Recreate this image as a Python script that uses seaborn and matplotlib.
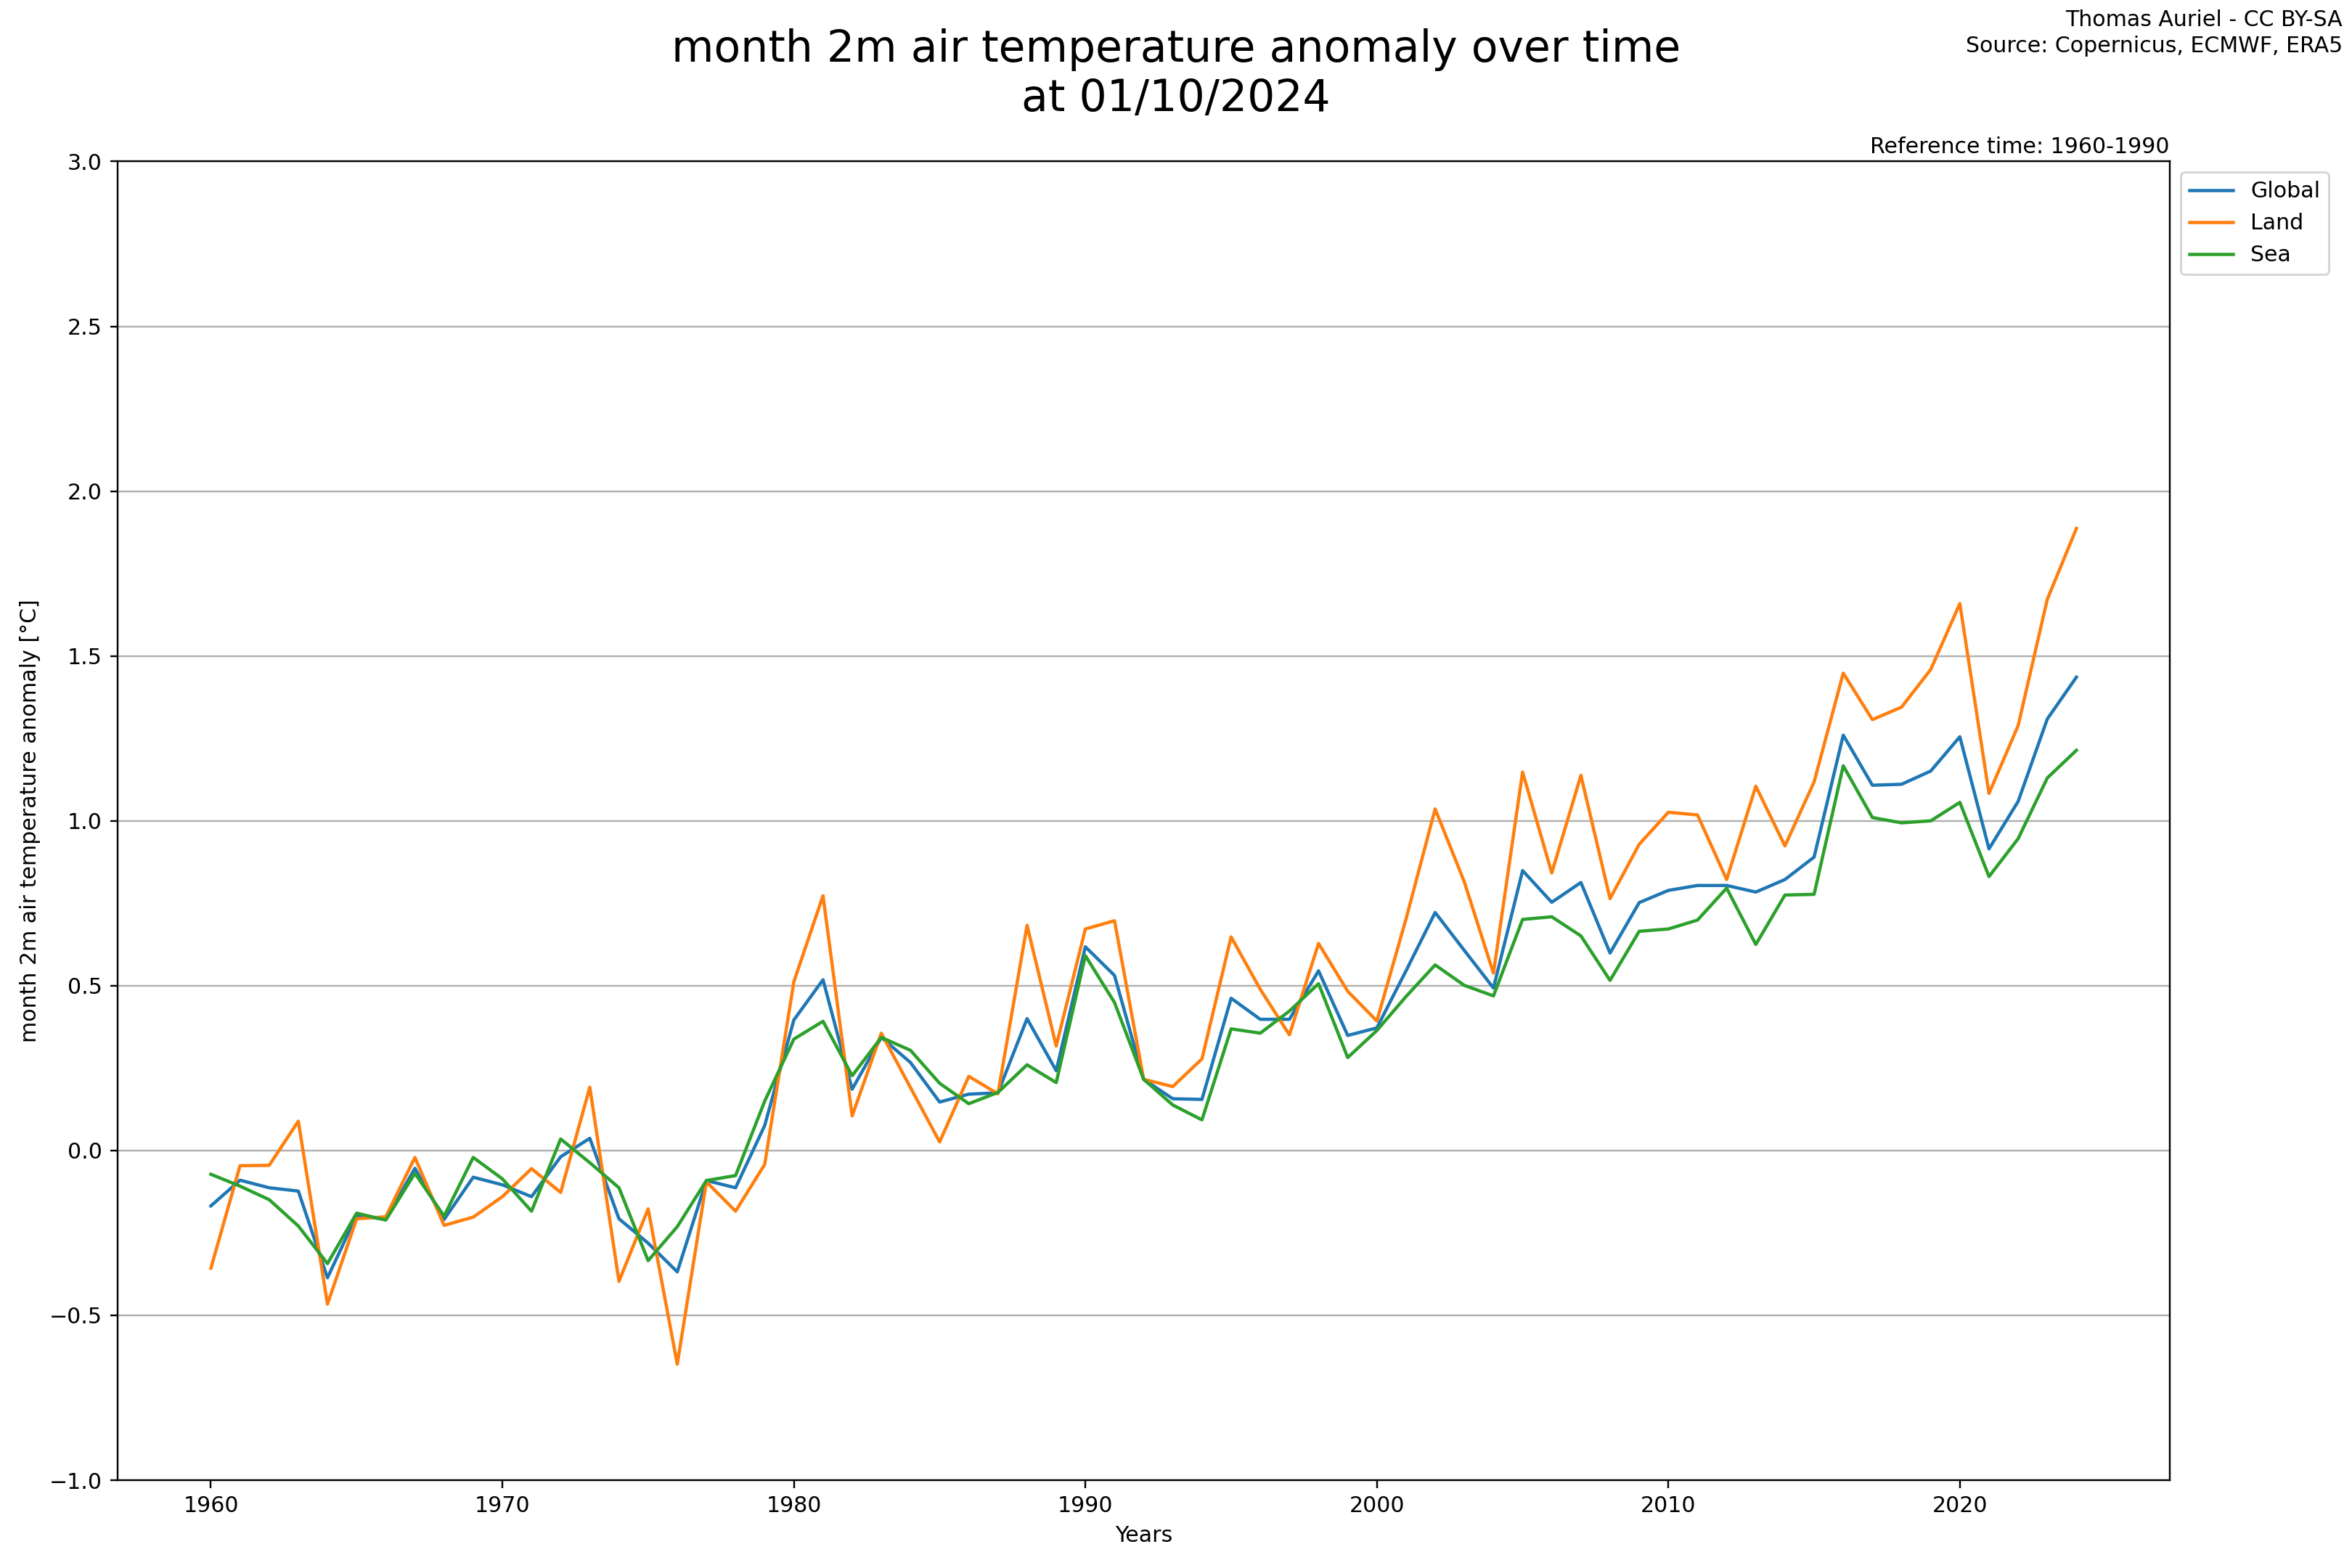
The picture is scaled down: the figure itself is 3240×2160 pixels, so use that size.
import numpy as np
import pandas as pd
import matplotlib.pyplot as plt
import seaborn as sns

# years 1960 -> 2024
years = list(range(1960, 2025))

# anomalies (°C, vs 1960-1990)
global_anom = [
    -0.168, -0.090, -0.113, -0.123, -0.386, -0.197, -0.209, -0.054, -0.209, -0.081,
    -0.104, -0.140, -0.019, 0.037, -0.207, -0.281, -0.368, -0.091, -0.113, 0.076,
    0.396, 0.518, 0.186, 0.343, 0.267, 0.147, 0.171, 0.175, 0.400, 0.242,
    0.618, 0.531, 0.216, 0.157, 0.155, 0.462, 0.398, 0.398, 0.545, 0.349,
    0.372, 0.545, 0.722, 0.607, 0.493, 0.849, 0.753, 0.813, 0.599, 0.752,
    0.789, 0.804, 0.804, 0.784, 0.822, 0.890, 1.260, 1.108, 1.111, 1.151,
    1.255, 0.915, 1.059, 1.309, 1.436,
]
land_anom = [
    -0.357, -0.046, -0.045, 0.089, -0.466, -0.207, -0.201, -0.021, -0.227, -0.202,
    -0.140, -0.055, -0.127, 0.192, -0.397, -0.177, -0.648, -0.095, -0.184, -0.042,
    0.512, 0.773, 0.105, 0.356, 0.191, 0.026, 0.225, 0.172, 0.683, 0.317,
    0.672, 0.697, 0.216, 0.194, 0.278, 0.648, 0.489, 0.351, 0.628, 0.483,
    0.393, 0.702, 1.036, 0.815, 0.538, 1.148, 0.842, 1.138, 0.764, 0.929,
    1.026, 1.018, 0.822, 1.105, 0.924, 1.118, 1.448, 1.307, 1.345, 1.459,
    1.659, 1.083, 1.289, 1.672, 1.887,
]
sea_anom = [
    -0.072, -0.108, -0.149, -0.229, -0.343, -0.190, -0.211, -0.069, -0.199, -0.021,
    -0.086, -0.184, 0.035, -0.037, -0.113, -0.334, -0.231, -0.091, -0.076, 0.150,
    0.338, 0.392, 0.227, 0.343, 0.304, 0.204, 0.142, 0.176, 0.260, 0.206,
    0.591, 0.449, 0.216, 0.138, 0.093, 0.369, 0.356, 0.423, 0.506, 0.282,
    0.364, 0.467, 0.563, 0.501, 0.469, 0.701, 0.709, 0.651, 0.516, 0.665,
    0.672, 0.699, 0.796, 0.625, 0.775, 0.777, 1.167, 1.010, 0.994, 1.000,
    1.056, 0.831, 0.946, 1.130, 1.214,
]
series_names = ["Global", "Land", "Sea"]

# format long pour seaborn
df = pd.DataFrame({
    "Years": years * 3,
    "anomaly": global_anom + land_anom + sea_anom,
    "zone": np.repeat(series_names, len(years)),
})

plt.rcParams['font.family'] = ['DejaVu Sans']
fig, ax = plt.subplots(figsize=(15, 10), dpi=216)
fig.subplots_adjust(left=0.05, right=0.9225, top=0.897, bottom=0.056)

sns.lineplot(data=df, x="Years", y="anomaly", hue="zone", palette="tab10",
             linewidth=1.5, ax=ax)

ax.set_ylim(-1, 3)
ax.set_yticks(np.arange(-1, 3.01, 0.5))
ax.yaxis.grid(True, color="#b0b0b0", linewidth=0.8)
ax.set_axisbelow(True)
ax.set_xlabel("Years")
ax.set_ylabel("month 2m air temperature anomaly [°C]")

# titre centré sur la figure
fig.suptitle("month 2m air temperature anomaly over time\nat 01/10/2024", fontsize=20, y=0.982)
ax.text(1, 1.003, "Reference time: 1960-1990", transform=ax.transAxes,
        ha="right", va="bottom")
fig.text(0.996, 0.994, "Thomas Auriel - CC BY-SA\nSource: Copernicus, ECMWF, ERA5",
         ha="right", va="top", linespacing=1.3)

ax.legend(loc="upper left", bbox_to_anchor=(1, 1), title=None)

plt.savefig("out.png", dpi=216)
